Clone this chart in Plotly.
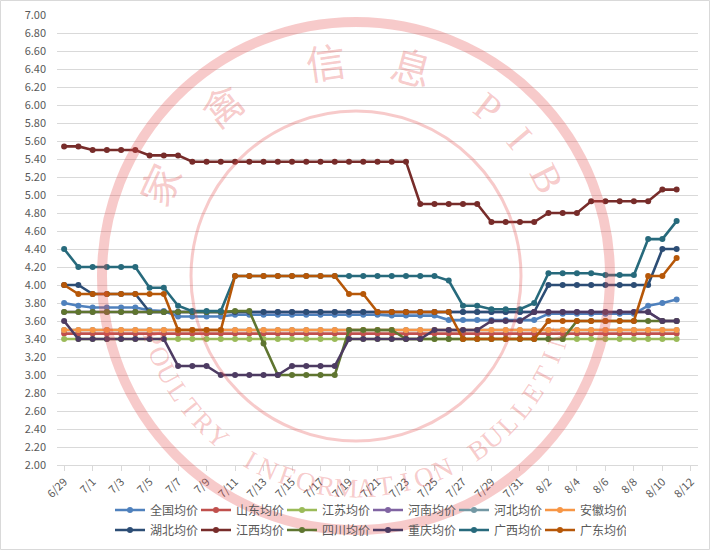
import math

import plotly.graph_objects as go

# category axis: 6/29 .. 8/12 (data stops at 8/11)
dates = [
    "6/29", "6/30", "7/1", "7/2", "7/3", "7/4", "7/5", "7/6", "7/7", "7/8",
    "7/9", "7/10", "7/11", "7/12", "7/13", "7/14", "7/15", "7/16", "7/17", "7/18",
    "7/19", "7/20", "7/21", "7/22", "7/23", "7/24", "7/25", "7/26", "7/27", "7/28",
    "7/29", "7/30", "7/31", "8/1", "8/2", "8/3", "8/4", "8/5", "8/6", "8/7",
    "8/8", "8/9", "8/10", "8/11", "8/12",
]

quanguo = [
    3.80, 3.77, 3.75, 3.75, 3.75, 3.75, 3.72, 3.71, 3.65, 3.65, 3.65,
    3.65, 3.67, 3.67, 3.67, 3.67, 3.67, 3.67, 3.67, 3.67, 3.67, 3.67,
    3.67, 3.66, 3.66, 3.66, 3.66, 3.61, 3.61, 3.61, 3.61, 3.61, 3.61,
    3.61, 3.68, 3.68, 3.68, 3.68, 3.68, 3.68, 3.68, 3.77, 3.80, 3.84,
]
shandong = [
    3.46, 3.46, 3.46, 3.46, 3.46, 3.46, 3.46, 3.46, 3.46, 3.46, 3.46,
    3.46, 3.46, 3.46, 3.46, 3.46, 3.46, 3.46, 3.46, 3.46, 3.46, 3.46,
    3.46, 3.46, 3.46, 3.46, 3.46, 3.46, 3.46, 3.46, 3.46, 3.46, 3.46,
    3.46, 3.46, 3.46, 3.46, 3.46, 3.46, 3.46, 3.46, 3.46, 3.46, 3.46,
]
jiangsu = [
    3.40, 3.40, 3.40, 3.40, 3.40, 3.40, 3.40, 3.40, 3.40, 3.40, 3.40,
    3.40, 3.40, 3.40, 3.40, 3.40, 3.40, 3.40, 3.40, 3.40, 3.40, 3.40,
    3.40, 3.40, 3.40, 3.40, 3.40, 3.40, 3.40, 3.40, 3.40, 3.40, 3.40,
    3.40, 3.40, 3.40, 3.40, 3.40, 3.40, 3.40, 3.40, 3.40, 3.40, 3.40,
]
henan = [
    3.70, 3.70, 3.70, 3.70, 3.70, 3.70, 3.70, 3.70, 3.70, 3.70, 3.70,
    3.70, 3.70, 3.70, 3.70, 3.70, 3.70, 3.70, 3.70, 3.70, 3.70, 3.70,
    3.70, 3.70, 3.70, 3.70, 3.70, 3.70, 3.70, 3.70, 3.70, 3.70, 3.70,
    3.70, 3.70, 3.70, 3.70, 3.70, 3.70, 3.70, 3.70, 3.70, 3.60, 3.60,
]
hebei = [
    3.50, 3.50, 3.50, 3.50, 3.50, 3.50, 3.50, 3.50, 3.50, 3.50, 3.50,
    3.50, 3.50, 3.50, 3.50, 3.50, 3.50, 3.50, 3.50, 3.50, 3.50, 3.50,
    3.50, 3.50, 3.50, 3.50, 3.50, 3.50, 3.50, 3.50, 3.50, 3.50, 3.50,
    3.50, 3.50, 3.50, 3.50, 3.50, 3.50, 3.50, 3.50, 3.50, 3.50, 3.50,
]
anhui = [
    3.50, 3.50, 3.50, 3.50, 3.50, 3.50, 3.50, 3.50, 3.50, 3.50, 3.50,
    3.50, 3.50, 3.50, 3.50, 3.50, 3.50, 3.50, 3.50, 3.50, 3.50, 3.50,
    3.50, 3.50, 3.50, 3.50, 3.50, 3.50, 3.50, 3.50, 3.50, 3.50, 3.50,
    3.50, 3.50, 3.50, 3.50, 3.50, 3.50, 3.50, 3.50, 3.50, 3.50, 3.50,
]
hubei = [
    4.00, 4.00, 3.90, 3.90, 3.90, 3.90, 3.70, 3.70, 3.70, 3.70, 3.70,
    3.70, 3.70, 3.70, 3.70, 3.70, 3.70, 3.70, 3.70, 3.70, 3.70, 3.70,
    3.70, 3.70, 3.70, 3.70, 3.70, 3.70, 3.70, 3.70, 3.70, 3.70, 3.70,
    3.70, 4.00, 4.00, 4.00, 4.00, 4.00, 4.00, 4.00, 4.00, 4.40, 4.40,
]
jiangxi = [
    5.54, 5.54, 5.50, 5.50, 5.50, 5.50, 5.44, 5.44, 5.44, 5.37, 5.37,
    5.37, 5.37, 5.37, 5.37, 5.37, 5.37, 5.37, 5.37, 5.37, 5.37, 5.37,
    5.37, 5.37, 5.37, 4.90, 4.90, 4.90, 4.90, 4.90, 4.70, 4.70, 4.70,
    4.70, 4.80, 4.80, 4.80, 4.93, 4.93, 4.93, 4.93, 4.93, 5.06, 5.06,
]
sichuan = [
    3.70, 3.70, 3.70, 3.70, 3.70, 3.70, 3.70, 3.70, 3.70, 3.70, 3.70,
    3.70, 3.71, 3.71, 3.35, 3.00, 3.00, 3.00, 3.00, 3.00, 3.50, 3.50,
    3.50, 3.50, 3.40, 3.40, 3.40, 3.40, 3.40, 3.40, 3.40, 3.40, 3.40,
    3.40, 3.40, 3.40, 3.60, 3.60, 3.60, 3.60, 3.60, 3.60, 3.60, 3.60,
]
chongqing = [
    3.60, 3.40, 3.40, 3.40, 3.40, 3.40, 3.40, 3.40, 3.10, 3.10, 3.10,
    3.00, 3.00, 3.00, 3.00, 3.00, 3.10, 3.10, 3.10, 3.10, 3.40, 3.40,
    3.40, 3.40, 3.40, 3.40, 3.50, 3.50, 3.50, 3.50, 3.60, 3.60, 3.60,
    3.70, 3.70, 3.70, 3.70, 3.70, 3.70, 3.70, 3.70, 3.70, 3.60, 3.60,
]
guangxi = [
    4.40, 4.20, 4.20, 4.20, 4.20, 4.20, 3.97, 3.97, 3.77, 3.71, 3.71,
    3.71, 4.10, 4.10, 4.10, 4.10, 4.10, 4.10, 4.10, 4.10, 4.10, 4.10,
    4.10, 4.10, 4.10, 4.10, 4.10, 4.05, 3.77, 3.77, 3.73, 3.73, 3.73,
    3.80, 4.13, 4.13, 4.13, 4.13, 4.11, 4.11, 4.11, 4.51, 4.51, 4.71,
]
guangdong = [
    4.00, 3.90, 3.90, 3.90, 3.90, 3.90, 3.90, 3.90, 3.50, 3.50, 3.50,
    3.50, 4.10, 4.10, 4.10, 4.10, 4.10, 4.10, 4.10, 4.10, 3.90, 3.90,
    3.70, 3.70, 3.70, 3.70, 3.70, 3.70, 3.40, 3.40, 3.40, 3.40, 3.40,
    3.40, 3.60, 3.60, 3.60, 3.60, 3.60, 3.60, 3.60, 4.10, 4.10, 4.30,
]

series = [
    ("全国均价", quanguo, "#4F81BD", "legend"),
    ("山东均价", shandong, "#C0504D", "legend"),
    ("江苏均价", jiangsu, "#9BBB59", "legend"),
    ("河南均价", henan, "#8064A2", "legend"),
    ("河北均价", hebei, "#7398A4", "legend"),
    ("安徽均价", anhui, "#F79646", "legend"),
    ("湖北均价", hubei, "#2C4D75", "legend2"),
    ("江西均价", jiangxi, "#772C2A", "legend2"),
    ("四川均价", sichuan, "#5F7530", "legend2"),
    ("重庆均价", chongqing, "#4D3B62", "legend2"),
    ("广西均价", guangxi, "#276A7C", "legend2"),
    ("广东均价", guangdong, "#B65708", "legend2"),
]

FONT = "Noto Sans CJK SC"
TEXT_GREY = "#595959"
GRID = "#d9d9d9"
WM = "rgba(228,80,80,0.30)"

W, H = 710, 550
# plot area in pixels
L, R, T, B = 57, 698, 15, 465


def px_x(x):
    return (x - L) / (R - L)


def px_y(y):
    return (B - y) / (B - T)


def add_watermark(fig):
    cx, cy = 356, 276
    for r, w in [(254, 10), (165, 3)]:
        fig.add_shape(
            type="circle",
            xref="paper",
            yref="paper",
            x0=px_x(cx - r),
            x1=px_x(cx + r),
            y0=px_y(cy + r),
            y1=px_y(cy - r),
            line=dict(color=WM, width=w),
            layer="above",
        )

    def letter(ch, a, radius, angle, size, family):
        fig.add_annotation(
            x=px_x(cx + radius * math.cos(math.radians(a))),
            y=px_y(cy + radius * math.sin(math.radians(a))),
            xref="paper",
            yref="paper",
            xanchor="center",
            yanchor="middle",
            text=ch,
            showarrow=False,
            textangle=angle,
            font=dict(family=family, size=size, color=WM),
        )

    # top text, letters pointing outwards
    top = ["家", "禽", "信", "息", "P", "I", "B"]
    angles = [205, 232, 262, 285, 308, 320, 333]
    for ch, a in zip(top, angles):
        letter(ch, a, 214, a - 270, 40, "Liberation Serif, Noto Sans CJK SC")

    # bottom text, letters pointing to the centre
    bottom = "POULTRY INFORMATION BULLETIN"
    for i, ch in enumerate(bottom):
        if ch != " ":
            a = 163 - i * 5.4
            letter(ch, a, 212, a - 90, 27, "Liberation Serif")


fig = go.Figure()
for name, values, color, legend in series:
    fig.add_trace(
        go.Scatter(
            x=dates[: len(values)],
            y=values,
            name=name,
            mode="lines+markers",
            line=dict(color=color, width=2.6),
            marker=dict(color=color, size=6),
            legend=legend,
        )
    )

add_watermark(fig)

# thin border round the chart area
fig.add_shape(
    type="rect",
    xref="paper",
    yref="paper",
    x0=px_x(0.5),
    x1=px_x(W - 0.5),
    y0=px_y(H - 0.5),
    y1=px_y(0.5),
    line=dict(color=GRID, width=1),
    layer="below",
)

legend_style = dict(
    orientation="h",
    xref="container",
    yref="container",
    xanchor="left",
    yanchor="middle",
    font=dict(family=FONT, size=12, color=TEXT_GREY),
    entrywidth=41,
    entrywidthmode="pixels",
    bgcolor="rgba(0,0,0,0)",
    itemclick=False,
)

fig.update_layout(
    width=W,
    height=H,
    margin=dict(l=L, r=W - R, t=T, b=H - B, autoexpand=False),
    paper_bgcolor="white",
    plot_bgcolor="rgba(0,0,0,0)",
    font=dict(family=FONT, color=TEXT_GREY),
    showlegend=True,
    legend=dict(legend_style, x=110 / W, y=1 - 510 / H),
    legend2=dict(legend_style, x=110 / W, y=1 - 530 / H),
)

fig.update_xaxes(
    type="category",
    categoryorder="array",
    categoryarray=dates,
    range=[-0.5, len(dates) - 0.5],
    tickvals=dates[::2],
    ticktext=dates[::2],
    tickangle=-45,
    tickfont=dict(family=FONT, size=11, color=TEXT_GREY),
    showgrid=False,
    showline=True,
    linecolor=GRID,
    ticks="outside",
    ticklen=5,
    tickcolor=GRID,
    zeroline=False,
    automargin=False,
)
fig.update_yaxes(
    range=[2, 7],
    tick0=2,
    dtick=0.2,
    tickformat=".2f",
    tickfont=dict(family=FONT, size=11, color=TEXT_GREY),
    showgrid=True,
    gridcolor=GRID,
    gridwidth=1,
    zeroline=False,
    showline=False,
    ticks="",
    ticklabelstandoff=10,
    automargin=False,
)

# drop the default page margin so the 710x550 figure fills the window
fig.write_html(
    "out.html",
    config={"displayModeBar": False},
    post_script="document.body.style.margin = '0';",
)
